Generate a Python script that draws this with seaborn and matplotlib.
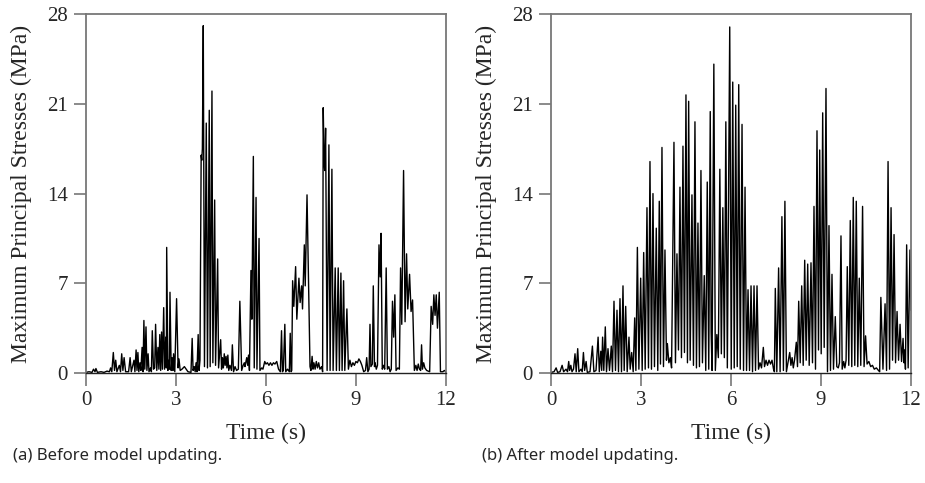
import matplotlib
matplotlib.use("Agg")
import matplotlib.pyplot as plt
import seaborn as sns
import pandas as pd

# (a) before model updating: time (s), max principal stress (MPa)
t_before = [0.0, 0.1, 0.2, 0.25, 0.3, 0.33, 0.38, 0.5, 0.6, 0.7, 0.78, 0.82, 0.86, 0.91, 0.95, 0.99, 1.03, 1.11, 1.15, 1.19,
            1.23, 1.27, 1.32, 1.42, 1.47, 1.51, 1.6, 1.63, 1.67, 1.7, 1.73, 1.76, 1.8, 1.83, 1.87, 1.9, 1.93, 1.96, 2.0, 2.03,
            2.07, 2.1, 2.15, 2.18, 2.21, 2.25, 2.29, 2.32, 2.36, 2.4, 2.43, 2.46, 2.49, 2.52, 2.55, 2.59, 2.62, 2.66, 2.68, 2.69,
            2.73, 2.77, 2.78, 2.8, 2.84, 2.87, 2.9, 2.92, 2.96, 3.02, 3.07, 3.1, 3.14, 3.2, 3.28, 3.4, 3.5, 3.54, 3.57, 3.61,
            3.64, 3.67, 3.7, 3.74, 3.77, 3.8, 3.84, 3.86, 3.88, 3.91, 3.95, 4.01, 4.05, 4.11, 4.14, 4.2, 4.23, 4.29, 4.32, 4.39,
            4.42, 4.49, 4.52, 4.55, 4.58, 4.61, 4.64, 4.67, 4.7, 4.73, 4.76, 4.8, 4.85, 4.88, 4.92, 4.97, 5.02, 5.08, 5.13, 5.19,
            5.24, 5.28, 5.3, 5.36, 5.39, 5.42, 5.45, 5.5, 5.53, 5.58, 5.61, 5.67, 5.7, 5.77, 5.8, 5.86, 5.9, 5.96, 6.0, 6.05,
            6.1, 6.15, 6.2, 6.25, 6.3, 6.36, 6.42, 6.48, 6.52, 6.55, 6.58, 6.63, 6.66, 6.72, 6.78, 6.81, 6.84, 6.86, 6.89, 6.93,
            6.99, 7.03, 7.1, 7.14, 7.19, 7.22, 7.28, 7.31, 7.37, 7.47, 7.5, 7.54, 7.57, 7.6, 7.64, 7.68, 7.72, 7.76, 7.8, 7.86,
            7.89, 7.91, 7.94, 7.96, 7.99, 8.04, 8.1, 8.14, 8.2, 8.24, 8.31, 8.35, 8.41, 8.45, 8.5, 8.54, 8.59, 8.63, 8.7, 8.75,
            8.8, 8.85, 8.9, 8.95, 9.0, 9.05, 9.1, 9.15, 9.2, 9.26, 9.32, 9.36, 9.4, 9.44, 9.47, 9.5, 9.55, 9.58, 9.62, 9.64,
            9.68, 9.72, 9.77, 9.81, 9.84, 9.88, 9.92, 9.96, 10.01, 10.05, 10.1, 10.14, 10.18, 10.22, 10.26, 10.3, 10.34, 10.4, 10.45, 10.49,
            10.53, 10.59, 10.64, 10.69, 10.73, 10.79, 10.84, 10.89, 10.95, 11.0, 11.04, 11.08, 11.12, 11.16, 11.19, 11.22, 11.26, 11.3, 11.36, 11.46,
            11.51, 11.56, 11.6, 11.64, 11.68, 11.72, 11.78, 11.82, 11.9, 11.95, 12.0]
s_before = [0.05, 0.1, 0.05, 0.3, 0.1, 0.35, 0.05, 0.1, 0.05, 0.15, 0.1, 0.4, 0.1, 1.6, 0.2, 1.0, 0.1, 0.6, 0.1, 1.5,
            0.2, 1.2, 0.1, 0.1, 1.2, 0.1, 1.0, 0.1, 1.8, 0.2, 1.6, 0.1, 0.8, 0.2, 2.0, 0.1, 4.1, 0.3, 3.6, 0.2,
            1.5, 0.1, 0.4, 0.1, 3.3, 0.3, 0.4, 3.8, 0.2, 2.0, 0.3, 3.0, 0.2, 3.2, 0.3, 5.1, 0.3, 2.8, 0.4, 9.8,
            0.2, 1.0, 0.3, 6.3, 0.2, 1.2, 0.2, 1.5, 0.1, 5.8, 0.4, 1.1, 0.2, 0.3, 0.5, 0.1, 0.05, 2.7, 0.2, 0.5,
            0.1, 0.8, 0.1, 3.0, 0.2, 1.0, 17.0, 16.6, 17.5, 27.1, 0.5, 19.5, 0.4, 20.5, 0.5, 22.0, 0.8, 13.5, 0.6, 8.9,
            0.4, 2.6, 0.3, 1.2, 0.4, 1.5, 0.6, 1.3, 0.4, 1.4, 0.2, 0.6, 0.2, 2.2, 0.1, 0.5, 0.2, 0.3, 5.6, 0.2,
            0.6, 0.8, 0.5, 1.2, 0.6, 1.4, 0.2, 8.0, 4.2, 16.9, 0.4, 13.7, 0.3, 10.5, 0.2, 0.4, 0.3, 0.9, 0.7, 0.8,
            0.6, 0.8, 0.6, 0.8, 0.7, 0.9, 0.3, 0.1, 3.3, 0.1, 0.2, 3.8, 0.1, 0.3, 0.1, 3.1, 0.1, 0.2, 7.2, 5.2,
            8.3, 4.2, 7.4, 5.5, 6.8, 5.0, 10.0, 6.8, 13.9, 0.5, 0.2, 1.3, 0.3, 0.8, 0.3, 0.9, 0.4, 0.8, 0.3, 0.5,
            0.1, 20.7, 16.5, 15.8, 19.1, 0.2, 17.8, 0.2, 15.9, 0.2, 8.2, 0.2, 8.2, 0.2, 7.8, 0.2, 7.2, 0.2, 5.0, 0.3,
            1.0, 0.5, 0.8, 0.6, 0.9, 0.8, 1.1, 0.9, 0.6, 0.1, 0.2, 1.2, 0.1, 0.3, 3.8, 0.5, 0.7, 6.8, 0.5, 0.8,
            0.3, 0.6, 10.0, 7.5, 10.9, 0.3, 0.6, 0.3, 8.2, 0.3, 0.5, 0.1, 0.3, 5.6, 2.8, 6.1, 0.2, 0.4, 0.3, 8.2,
            3.8, 15.8, 4.0, 9.3, 5.0, 7.7, 4.8, 5.7, 0.2, 0.6, 0.2, 0.7, 0.3, 0.2, 2.2, 0.3, 0.8, 0.4, 0.2, 0.1,
            5.2, 3.8, 6.1, 4.5, 6.1, 3.5, 6.3, 0.1, 0.1, 0.2, 0.1]

# (b) after model updating
t_after = [0.0, 0.1, 0.17, 0.22, 0.3, 0.37, 0.42, 0.5, 0.55, 0.59, 0.62, 0.66, 0.7, 0.75, 0.8, 0.84, 0.89, 0.93, 1.0, 1.04,
           1.08, 1.12, 1.17, 1.21, 1.3, 1.38, 1.43, 1.5, 1.57, 1.61, 1.66, 1.69, 1.72, 1.76, 1.81, 1.85, 1.9, 1.95, 2.01, 2.05,
           2.1, 2.15, 2.2, 2.25, 2.3, 2.35, 2.4, 2.44, 2.49, 2.54, 2.6, 2.64, 2.69, 2.74, 2.79, 2.83, 2.88, 2.93, 2.99, 3.04,
           3.09, 3.14, 3.2, 3.25, 3.3, 3.35, 3.4, 3.45, 3.51, 3.56, 3.61, 3.65, 3.7, 3.75, 3.8, 3.85, 3.88, 3.93, 3.98, 4.02,
           4.1, 4.15, 4.2, 4.25, 4.3, 4.35, 4.4, 4.45, 4.5, 4.55, 4.59, 4.64, 4.7, 4.75, 4.8, 4.85, 4.9, 4.95, 5.0, 5.05,
           5.11, 5.16, 5.21, 5.26, 5.31, 5.34, 5.37, 5.43, 5.48, 5.53, 5.58, 5.63, 5.68, 5.73, 5.78, 5.83, 5.88, 5.96, 6.01, 6.06,
           6.11, 6.16, 6.21, 6.26, 6.31, 6.37, 6.42, 6.47, 6.52, 6.57, 6.62, 6.67, 6.72, 6.77, 6.82, 6.87, 6.92, 6.97, 7.02, 7.08,
           7.12, 7.17, 7.22, 7.27, 7.32, 7.37, 7.42, 7.45, 7.48, 7.53, 7.59, 7.64, 7.7, 7.75, 7.8, 7.85, 7.9, 7.96, 8.0, 8.04,
           8.08, 8.12, 8.18, 8.22, 8.26, 8.31, 8.36, 8.41, 8.46, 8.51, 8.56, 8.61, 8.67, 8.72, 8.77, 8.82, 8.87, 8.92, 8.96, 9.01,
           9.06, 9.11, 9.17, 9.22, 9.27, 9.32, 9.37, 9.42, 9.48, 9.53, 9.58, 9.62, 9.67, 9.71, 9.76, 9.8, 9.84, 9.88, 9.93, 9.98,
           10.03, 10.08, 10.13, 10.18, 10.23, 10.28, 10.33, 10.39, 10.44, 10.49, 10.54, 10.6, 10.66, 10.72, 10.78, 10.85, 10.92, 10.96, 11.0, 11.07,
           11.14, 11.19, 11.24, 11.29, 11.34, 11.39, 11.44, 11.49, 11.54, 11.59, 11.64, 11.69, 11.74, 11.77, 11.79, 11.82, 11.86, 11.91, 11.97, 12.0]
s_after = [0.05, 0.1, 0.4, 0.05, 0.1, 0.6, 0.1, 0.3, 0.1, 0.9, 0.2, 0.6, 0.1, 0.3, 1.5, 0.1, 1.9, 0.1, 0.3, 0.1,
           1.6, 0.2, 0.9, 0.05, 0.1, 2.1, 0.1, 0.2, 2.8, 0.1, 1.7, 0.2, 2.8, 0.2, 3.6, 0.1, 1.9, 0.2, 2.1, 0.1,
           5.6, 0.2, 4.9, 0.1, 5.8, 0.1, 6.8, 0.2, 5.2, 0.1, 2.8, 0.3, 1.6, 0.1, 4.3, 0.2, 9.8, 0.3, 7.4, 0.2,
           9.4, 0.3, 12.9, 0.4, 16.5, 0.3, 14.0, 0.5, 11.3, 0.2, 13.4, 0.7, 17.6, 0.5, 9.6, 1.0, 2.3, 0.8, 1.2, 0.4,
           18.0, 0.8, 9.3, 1.8, 14.5, 1.2, 17.7, 1.6, 21.7, 0.8, 21.2, 1.0, 13.9, 0.6, 19.6, 0.4, 11.7, 0.5, 15.8, 0.8,
           7.6, 0.2, 14.9, 0.3, 20.4, 3.2, 0.2, 24.1, 0.2, 3.0, 1.2, 15.9, 1.5, 12.9, 1.2, 19.6, 0.4, 27.0, 0.3, 22.7,
           0.4, 20.9, 0.5, 22.5, 0.3, 19.4, 0.2, 14.5, 0.2, 6.5, 0.2, 6.8, 0.1, 6.8, 0.2, 6.8, 0.3, 0.8, 0.4, 2.0,
           0.5, 1.0, 0.6, 1.0, 0.7, 1.0, 0.3, 0.1, 6.6, 0.1, 8.2, 0.1, 12.2, 0.2, 13.4, 0.1, 0.8, 1.6, 0.6, 1.2,
           0.4, 1.0, 2.4, 0.5, 5.6, 0.8, 6.8, 0.6, 8.8, 1.0, 8.5, 0.6, 8.6, 0.8, 13.0, 0.3, 18.9, 1.8, 17.4, 1.5,
           20.3, 2.0, 22.2, 0.1, 11.5, 0.2, 7.7, 0.3, 4.4, 0.5, 0.4, 0.8, 10.7, 0.3, 0.9, 0.4, 1.0, 8.3, 0.6, 11.9,
           0.5, 13.7, 0.6, 13.4, 0.5, 7.4, 0.6, 13.0, 0.5, 2.9, 0.7, 0.9, 0.5, 0.6, 0.3, 0.4, 0.2, 0.1, 5.9, 0.3,
           5.4, 0.2, 16.5, 0.3, 12.9, 1.0, 10.8, 0.8, 4.8, 1.0, 3.8, 0.9, 2.7, 0.8, 1.8, 0.3, 10.0, 0.4, 9.6, 4.9]

y_ticks = [0, 7, 14, 21, 28]
x_ticks = [0, 3, 6, 9, 12]
captions = ["(a) Before model updating.", "(b) After model updating."]

sns.set_theme(style="white")
serif = ["Liberation Serif", "DejaVu Serif"]
plt.rcParams["font.family"] = serif

fig = plt.figure(figsize=(9.25, 4.83), dpi=100)
ax_a = fig.add_axes([0.093, 0.2277, 0.389, 0.743])
ax_b = fig.add_axes([0.5957, 0.2277, 0.389, 0.743])

panels = [(ax_a, t_before, s_before), (ax_b, t_after, s_after)]
for ax, t, s in panels:
    df = pd.DataFrame({"t": t, "s": s})
    sns.lineplot(data=df, x="t", y="s", ax=ax, color="black", lw=1.0,
                 estimator=None, sort=False)
    ax.set_xlim(0, 12)
    ax.set_ylim(0, 28)
    ax.set_xticks(x_ticks)
    ax.set_yticks(y_ticks)
    ax.tick_params(axis="both", direction="out", length=9, width=1.2,
                   color="#777777", labelsize=15, pad=4, bottom=True, left=True)
    for lab in ax.get_xticklabels() + ax.get_yticklabels():
        lab.set_family(serif)
    for side in ["top", "right", "left"]:
        ax.spines[side].set_color("#777777")
        ax.spines[side].set_linewidth(1.3)
    ax.spines["bottom"].set_color("#222222")
    ax.spines["bottom"].set_linewidth(1.0)
    ax.set_xlabel("Time (s)", fontsize=17, family=serif)
    ax.set_ylabel("Maximum Principal Stresses (MPa)", fontsize=17, family=serif)
    ax.xaxis.set_label_coords(0.5, -0.14)
    ax.yaxis.set_label_coords(-0.15, 0.5)

sans = ["Noto Sans", "DejaVu Sans"]
fig.text(0.014, 0.056, captions[0], fontsize=12, family=sans, va="center")
fig.text(0.521, 0.056, captions[1], fontsize=12, family=sans, va="center")

fig.savefig("out.png", dpi=100)
